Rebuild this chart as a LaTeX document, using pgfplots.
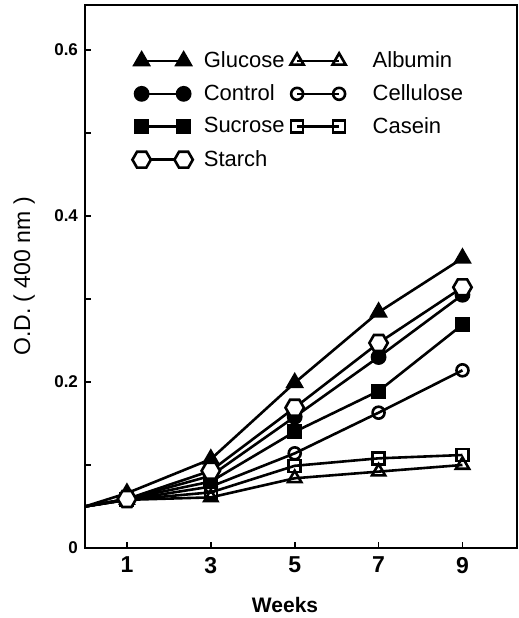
\documentclass[border=0pt]{standalone}
\usepackage{fontspec}
\setmainfont{Liberation Sans}
\usepackage{pgfplots}
\pgfplotsset{compat=1.18}
\usetikzlibrary{plotmarks}
\pgfdeclareplotmark{hexagon}{%
  \pgfpathmoveto{\pgfqpointpolar{0}{\pgfplotmarksize}}%
  \pgfpathlineto{\pgfqpointpolar{60}{\pgfplotmarksize}}%
  \pgfpathlineto{\pgfqpointpolar{120}{\pgfplotmarksize}}%
  \pgfpathlineto{\pgfqpointpolar{180}{\pgfplotmarksize}}%
  \pgfpathlineto{\pgfqpointpolar{240}{\pgfplotmarksize}}%
  \pgfpathlineto{\pgfqpointpolar{300}{\pgfplotmarksize}}%
  \pgfpathclose
  \pgfusepathqfillstroke}
\begin{document}
\begin{tikzpicture}
\path[use as bounding box] (-42.5pt,-35pt) rectangle (217pt,274pt);
\begin{axis}[
  scale only axis,
  width=216pt, height=271.5pt,
  xmin=0, xmax=10.3, ymin=0, ymax=0.654,
  axis line style={line width=0.9pt},
  xtick={1,3,5,7,9},
  ytick={0,0.2,0.4,0.6},
  yticklabels={0,0.2,0.4,0.6},
  minor ytick={0.1,0.3,0.5},
  tick align=inside,
  xtick pos=bottom, ytick pos=left,
  major tick length=3pt, minor tick length=3pt,
  tick style={line width=0.8pt, black},
  /pgf/number format/assume math mode=true,
  xticklabel style={font=\fontsize{11.5}{13}\selectfont\bfseries, yshift=-1pt},
  yticklabel style={font=\fontsize{8.5}{10}\selectfont\bfseries},
  xlabel={Weeks},
  xlabel style={at={(axis cs:4.77,0)}, anchor=center, yshift=-28.5pt, font=\fontsize{10.5}{12}\selectfont\bfseries},
  ylabel={O.D. ( 400 nm )},
  ylabel style={at={(axis description cs:-0.141,0.5)}, anchor=center, font=\fontsize{11.5}{13}\selectfont},
  clip=false,
  every axis plot/.append style={black, line width=1.3pt, mark indices={2,3,4,5,6}, mark options={solid, line width=0.9pt}},
  legend image code/.code={\draw[#1, mark indices={1,3}] plot coordinates {(0pt,0pt) (10.5pt,0pt) (21pt,0pt)};},
  legend style={at={(axis description cs:0.095,0.93)}, anchor=north west, draw=none, fill=none,
    legend columns=2, font=\fontsize{11}{13}\selectfont, legend cell align=left,
    /tikz/every even column/.append style={column sep=1pt},
    row sep=3pt},
]
\addplot[mark=triangle*, mark size=4.5pt] coordinates {(0,0.05)(1,0.066)(3,0.107)(5,0.199)(7,0.284)(9,0.349)};
\addlegendentry{\hspace{3.5pt}Glucose}
\addplot[mark=triangle, mark size=3.8pt, mark options={fill=white}] coordinates {(0,0.05)(1,0.058)(3,0.061)(5,0.084)(7,0.092)(9,0.100)};
\addlegendentry{\hspace{11.5pt}Albumin}
\addplot[mark=*, mark size=3.5pt] coordinates {(0,0.05)(1,0.059)(3,0.087)(5,0.158)(7,0.230)(9,0.305)};
\addlegendentry{\hspace{3.5pt}Control}
\addplot[mark=o, mark size=3pt, mark options={fill=white}] coordinates {(0,0.05)(1,0.058)(3,0.074)(5,0.114)(7,0.163)(9,0.214)};
\addlegendentry{\hspace{11.5pt}Cellulose}
\addplot[mark=square*, mark size=3.3pt] coordinates {(0,0.05)(1,0.059)(3,0.080)(5,0.140)(7,0.189)(9,0.269)};
\addlegendentry{\hspace{3.5pt}Sucrose}
\addplot[mark=square, mark size=3pt, mark options={fill=white}] coordinates {(0,0.05)(1,0.058)(3,0.067)(5,0.099)(7,0.108)(9,0.112)};
\addlegendentry{\hspace{11.5pt}Casein}
\addplot[mark=hexagon, mark size=4.6pt, mark options={fill=white}] coordinates {(0,0.05)(1,0.059)(3,0.093)(5,0.169)(7,0.247)(9,0.314)};
\addlegendentry{\hspace{3.5pt}Starch}
\end{axis}
\end{tikzpicture}
\end{document}
